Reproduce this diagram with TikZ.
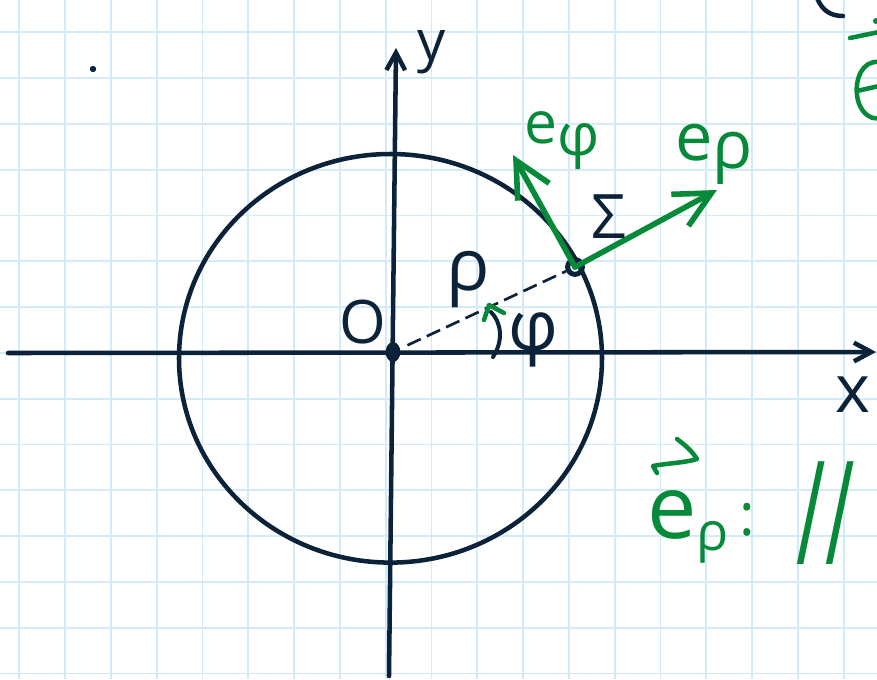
\documentclass[tikz,border=0pt]{standalone}
\usepackage{fontspec}
\setmainfont{Open Sans}
\usetikzlibrary{arrows.meta,shapes.geometric}
\definecolor{ink}{HTML}{0B2238}
\definecolor{pen}{HTML}{07893A}
\definecolor{gridc}{HTML}{D3EAF8}
\newcommand\fsz[1]{\fontsize{#1}{#1}\selectfont}
\begin{document}
\begin{tikzpicture}[x=0.75pt,y=-0.75pt,
  stroke/.style={line width=3.4pt,line cap=round,line join=round},
  axis/.style={stroke,draw=ink,-{Straight Barb[length=13pt,width=14pt]}},
  vec/.style={line width=4.2pt,line cap=round,line join=round,draw=pen,-{Straight Barb[length=27pt,width=27pt]}},
  lbl/.style={inner sep=0pt,anchor=base,text=ink},
  glbl/.style={inner sep=0pt,anchor=base,text=pen},
  gridline/.style={draw=gridc,line width=1.4pt}
]
\useasboundingbox (0,0) rectangle (877,679);
\clip (0,0) rectangle (877,679);
\fill[white] (0,0) rectangle (877,679);
% grid paper
\foreach \i in {0,...,18} \draw[gridline] ({19.3+45.8*\i},0) -- ({19.3+45.8*\i},679);
\foreach \j in {0,...,14} \draw[gridline] (0,{32.3+45.8*\j}) -- (877,{32.3+45.8*\j});

% circle
\draw[stroke,ink] (390.5,358.3) ellipse [x radius=211.5, y radius=204.3];

% axes
\coordinate (xL) at (8,353);
\coordinate (xR) at (876,352);
\coordinate (yB) at (389,676);
\coordinate (yT) at (396,48);
\draw[axis] (xL) -- (xR);
\draw[axis] (yB) -- (yT);

% origin and point
\node[ellipse,fill=ink,minimum width=11pt,minimum height=15pt,inner sep=0pt] (O) at (393,352) {};
\node[circle,draw=ink,line width=3.8pt,minimum size=11pt,inner sep=0pt] (P) at (575,267) {};
\draw[ink,line width=2pt,dash pattern=on 11pt off 5pt,shorten <=6pt] (O) -- (P);

% angle arc
\draw[ink,line width=3pt,line cap=round] (493,357) .. controls (504,340) and (501,322) .. (491,312);
\draw[pen,line width=3.4pt,line cap=round,line join=round] (484,320) -- (489,305) -- (504,313);

% unit vectors
\coordinate (ephiT) at (513,155);
\coordinate (erhoT) at (717,190);
\draw[vec] (P.center) -- (ephiT);
\draw[vec] (P.center) -- (erhoT);

% labels
\node[lbl,font=\fsz{42pt}] (ylab) at (432,60) {y};
\node[lbl,font=\fsz{45pt}] (Olab) at (363,343) {O};
\node[lbl,font=\fsz{50pt}] (xlab) at (853,412) {x};
\node[lbl,font=\fsz{54pt}] (rholab) at (468,290) {ρ};
\node[lbl,font=\fsz{52pt}] (philab) at (533,350) {φ};
\node[lbl,font=\fsz{46pt}] (siglab) at (609,238) {Σ};
\node[glbl,font=\fsz{44pt}] (ephilab) at (562,143) {e\raisebox{-9pt}{φ}};
\node[glbl,font=\fsz{50pt}] (erholab) at (714,160) {e\raisebox{-6pt}{ρ}};

% bottom-right note
\node[glbl,font=\fsz{66pt}] (be) at (688,538) {e\raisebox{-9pt}{\fsz{40pt}ρ}};
\node[glbl,font=\fsz{44pt}] (bcolon) at (747,535) {:};
\node[glbl,font=\fsz{80pt},xscale=0.75,yscale=1.35] (bpar) at (826,564) {//};
\draw[pen,stroke] (657,473) -- (653,466) .. controls (668,463) and (684,463) .. (697,459) .. controls (692,451) and (685,445) .. (677,439);

% top-left dot
\fill[ink] (93,69) circle (3.2);

% cut-off marks at the top right
\draw[ink,stroke] (817,-2) .. controls (822,10) and (830,16) .. (843,16);
\draw[pen,stroke] (850,38) -- (879,32);
\fill[pen] (876,21) circle (3);
\draw[pen,stroke] (857,91) -- (879,86);
\draw[pen,stroke] (879,62) .. controls (862,60) and (855,80) .. (857,95) .. controls (859,112) and (870,120) .. (879,118);
\end{tikzpicture}
\end{document}
